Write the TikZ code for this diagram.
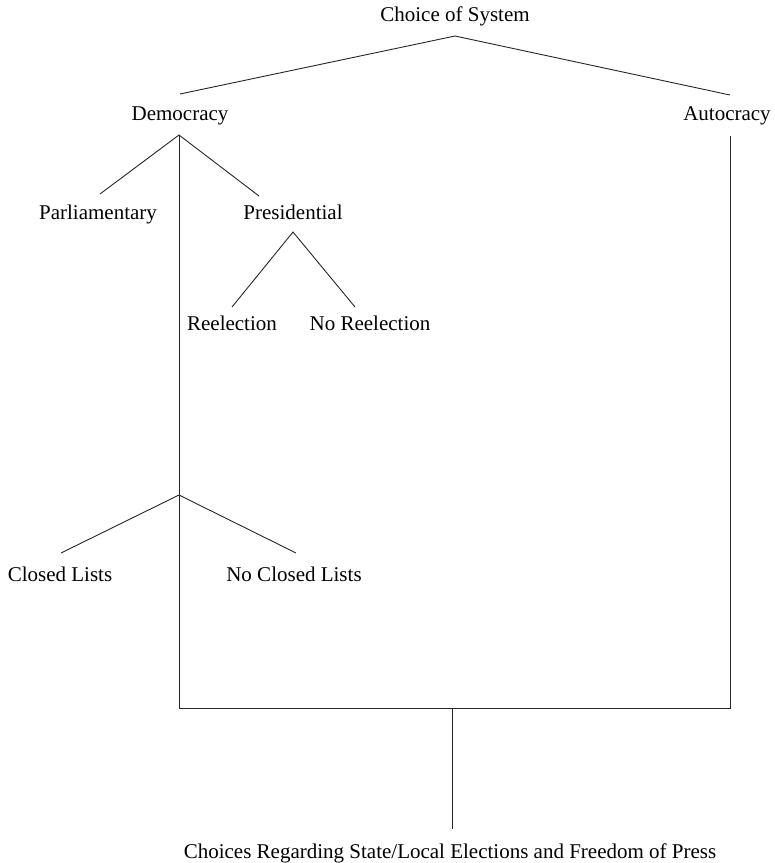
\documentclass[tikz,border=0pt]{standalone}
\usepackage{fontspec}
\setmainfont{Liberation Serif}
\begin{document}
\begin{tikzpicture}[x=1pt,y=-1pt,
  lbl/.style={inner sep=0pt, anchor=base, font=\fontsize{21}{25}\selectfont},
  conn/.style={line width=0.9pt, draw=black!85}]
\useasboundingbox (0,0) rectangle (775,863);
% text nodes
\node[lbl] (sys)   at (455,21.5) {Choice of System};
\node[lbl] (dem)   at (180,120.5) {Democracy};
\node[lbl] (aut)   at (727,120.5) {Autocracy};
\node[lbl] (par)   at (98,219) {Parliamentary};
\node[lbl] (pres)  at (293,219) {Presidential};
\node[lbl] (ree)   at (232,330) {Reelection};
\node[lbl] (nree)  at (370,330) {No Reelection};
\node[lbl] (cl)    at (60,581) {Closed Lists};
\node[lbl] (ncl)   at (294,581) {No Closed Lists};
\node[lbl] (press) at (450,858) {Choices Regarding State/Local Elections and Freedom of Press};
% junction coordinates
\coordinate (sysB)  at (455,36);
\coordinate (demT)  at (180,94);
\coordinate (autT)  at (730,95);
\coordinate (demB)  at (179,135);
\coordinate (autB)  at (730,136);
\coordinate (parT)  at (100,194);
\coordinate (presT) at (259,196);
\coordinate (presB) at (293,232);
\coordinate (reeT)  at (232,307);
\coordinate (nreeT) at (355,307);
\coordinate (clJ)   at (179,495);
\coordinate (clT)   at (61,553);
\coordinate (nclT)  at (296,553);
\coordinate (demC)  at (179,708);
\coordinate (autC)  at (730,708);
\coordinate (mid)   at (452,708);
\coordinate (pressT) at (452,829);
% connectors
\draw[conn] (demT) -- (sysB) -- (autT);
\draw[conn] (parT) -- (demB) -- (presT);
\draw[conn] (reeT) -- (presB) -- (nreeT);
\draw[conn] (clT) -- (clJ) -- (nclT);
\draw[conn] (demB) -- (demC) -- (autC) -- (autB);
\draw[conn] (mid) -- (pressT);
\end{tikzpicture}
\end{document}
